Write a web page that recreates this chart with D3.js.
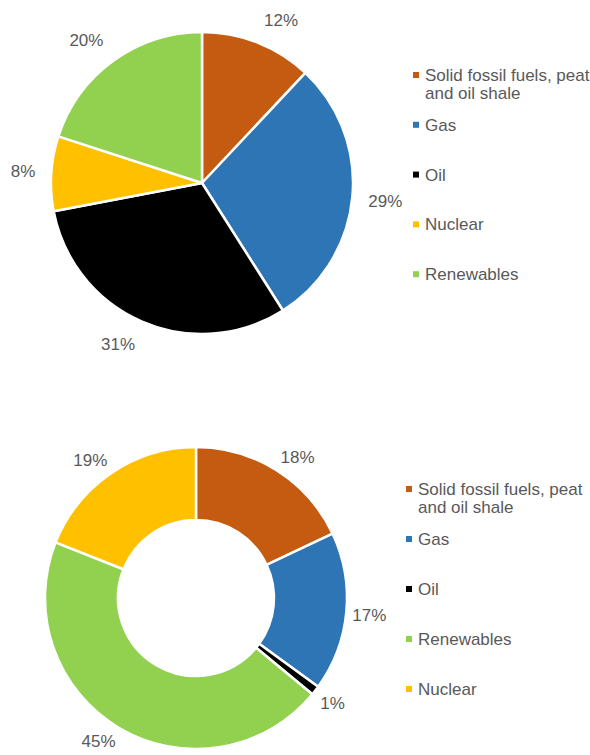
<html>
<head>
<meta charset="utf-8">
<title>Energy mix</title>
<script src="https://cdn.jsdelivr.net/npm/d3@7"></script>
<style>
  body { margin: 0; background: #fff; }
  text { font-family: "Liberation Sans", Arial, sans-serif; fill: #595959; }
</style>
</head>
<body>
<script>
// top chart (pie)
var topCategories = ["Solid fossil fuels, peat and oil shale", "Gas", "Oil", "Nuclear", "Renewables"];
var topValues = [12, 29, 31, 8, 20];
var topLabels = ["12%", "29%", "31%", "8%", "20%"];

// bottom chart (donut)
var botCategories = ["Solid fossil fuels, peat and oil shale", "Gas", "Oil", "Renewables", "Nuclear"];
var botValues = [18, 17, 1, 45, 19];
var botLabels = ["18%", "17%", "1%", "45%", "19%"];

var colorOf = {
    "Solid fossil fuels, peat and oil shale": "#C55A11",
    "Gas": "#2E75B6",
    "Oil": "#000000",
    "Nuclear": "#FFC000",
    "Renewables": "#92D050"
};

var w = 590, h = 755;
var svg = d3.select("body").append("svg").attr("width", w).attr("height", h);

function clamp(v) {
    return Math.max(-1, Math.min(1, v));
}

function drawChart(opts) {
    var g = svg.append("g").attr("transform", "translate(" + opts.cx + "," + opts.cy + ")");
    var pie = d3.pie().sort(null).value(function(d) { return d; });
    var arcs = pie(opts.values);
    var arc = d3.arc().innerRadius(opts.inner).outerRadius(opts.outer);

    g.selectAll("path").data(arcs).enter().append("path")
        .attr("d", arc)
        .attr("fill", function(d, i) { return colorOf[opts.categories[i]]; })
        .attr("stroke", "#fff")
        .attr("stroke-width", 2.5)
        .attr("stroke-linejoin", "round");

    // outside-end labels: the label box corner nearest the pie sits on the mid angle
    g.selectAll("text.lbl").data(arcs).enter().append("text")
        .attr("class", "lbl")
        .attr("font-size", "17px")
        .attr("text-anchor", "middle")
        .attr("dy", "0.35em")
        .text(function(d, i) { return opts.labels[i]; })
        .each(function(d) {
            var a = (d.startAngle + d.endAngle) / 2;
            var bw = this.getComputedTextLength() + 2;
            var bh = 18;
            var r = opts.outer + opts.gap;
            var x = r * Math.sin(a) + (bw / 2) * clamp(3 * Math.sin(a));
            var y = -r * Math.cos(a) - (bh / 2) * clamp(3 * Math.cos(a));
            d3.select(this).attr("x", x).attr("y", y);
        });

    // legend
    var lg = svg.append("g").attr("transform", "translate(" + opts.lx + "," + opts.ly + ")");
    var rows = lg.selectAll("g").data(opts.categories).enter().append("g")
        .attr("transform", function(d, i) { return "translate(0," + (i * opts.rowStep) + ")"; });
    rows.append("rect")
        .attr("x", 0).attr("y", -3)
        .attr("width", 6).attr("height", 6)
        .attr("fill", function(d) { return colorOf[d]; });
    rows.append("text")
        .attr("x", opts.textDx)
        .attr("font-size", "17px")
        .each(function(d) {
            var t = d3.select(this);
            var words = d.split(" ");
            var line = [];
            var lines = [];
            var tmp = t.append("tspan");
            words.forEach(function(word) {
                line.push(word);
                tmp.text(line.join(" "));
                if (tmp.node().getComputedTextLength() > 168 && line.length > 1) {
                    line.pop();
                    lines.push(line.join(" "));
                    line = [word];
                }
            });
            lines.push(line.join(" "));
            tmp.remove();
            lines.forEach(function(l, k) {
                t.append("tspan")
                    .attr("x", opts.textDx)
                    .attr("y", k * 18)
                    .attr("dy", "0.35em")
                    .text(l);
            });
        });
}

drawChart({
    categories: topCategories, values: topValues, labels: topLabels,
    cx: 202, cy: 183, inner: 0, outer: 151, gap: 15,
    lx: 413, ly: 75, rowStep: 49.8, textDx: 12
});

drawChart({
    categories: botCategories, values: botValues, labels: botLabels,
    cx: 196, cy: 598, inner: 78, outer: 151, gap: 5,
    lx: 406, ly: 489, rowStep: 50, textDx: 12
});
</script>
</body>
</html>
